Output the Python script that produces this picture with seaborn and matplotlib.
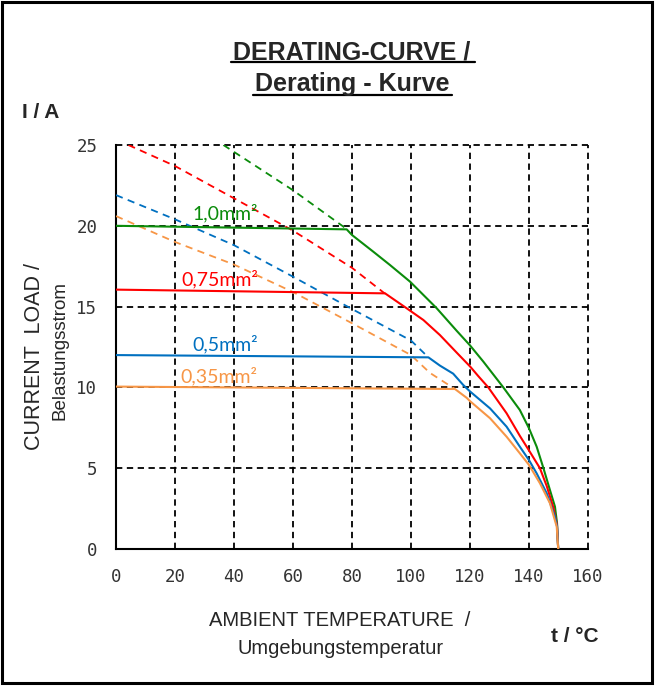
import numpy as np
import pandas as pd
import matplotlib
matplotlib.use("Agg")
import matplotlib.pyplot as plt
import seaborn as sns
from matplotlib.patches import Rectangle
from matplotlib.ticker import MultipleLocator, FixedLocator

# ---- data ----
series_names = ["1,0mm²", "0,75mm²", "0,5mm²", "0,35mm²"]
series_colors = ["#0B8C0B", "#FF0000", "#0070C0", "#F79646"]

# solid rated curves (temperature °C, current A)
t_10 = [0, 78.2, 80, 87.2, 92.9, 99.7, 108.7, 115.5, 120, 124.5, 131.3, 136.9,
        140, 142.6, 144.9, 147.1, 148.8, 149.5, 149.9]
i_10 = [20.0, 19.78, 19.43, 18.4, 17.57, 16.54, 14.9, 13.5, 12.6, 11.6, 10.0, 8.6,
        7.47, 6.33, 5.0, 3.65, 2.62, 1.6, 0.0]
t_075 = [0, 91.2, 98.5, 104.2, 109.8, 115.5, 120, 122.8, 126.2, 132.4, 136.9,
         140, 143.7, 146, 148.2, 149.5, 149.9]
i_075 = [16.05, 15.82, 14.9, 14.17, 13.24, 12.15, 11.3, 10.7, 10.0, 8.4, 7.0,
         6.1, 5.0, 3.9, 2.6, 1.5, 0.0]
t_05 = [0, 105.9, 109.8, 114.3, 117.7, 120, 126.8, 132.4, 136.9, 140, 142.6,
        146, 148.8, 149.5, 149.9]
i_05 = [12.0, 11.86, 11.35, 10.85, 10.15, 9.75, 8.7, 7.57, 6.33, 5.5, 4.68,
        3.45, 2.0, 1.4, 0.0]
t_035 = [0, 114.9, 118.9, 120, 126.8, 132.4, 136.9, 140, 143.7, 147.1, 149.4, 149.9]
i_035 = [10.05, 9.9, 9.35, 9.15, 8.09, 6.95, 5.92, 5.2, 4.07, 2.83, 1.38, 0.0]

# dashed extrapolations
td_10 = [36.4, 60, 78.2]
id_10 = [25.0, 22.2, 19.8]
td_075 = [4.2, 20, 40, 60, 80, 91.2]
id_075 = [25.0, 23.7, 21.7, 19.7, 17.4, 15.8]
td_05 = [0, 20, 40, 60, 80, 100, 105.9]
id_05 = [21.9, 20.4, 18.8, 16.85, 14.85, 12.9, 11.86]
td_035 = [0, 20, 40, 60, 80, 100, 106.4, 114.9]
id_035 = [20.6, 19.0, 17.6, 15.9, 13.97, 12.0, 10.9, 9.9]

solid = [(t_10, i_10), (t_075, i_075), (t_05, i_05), (t_035, i_035)]
dashed = [(td_10, id_10), (td_075, id_075), (td_05, id_05), (td_035, id_035)]

x_ticks = [0, 20, 40, 60, 80, 100, 120, 140, 160]
y_ticks = [0, 5, 10, 15, 20, 25]

# ---- figure ----
sns.set_style("white")
plt.rcParams["font.family"] = ["Liberation Sans", "DejaVu Sans"]

fig = plt.figure(figsize=(6.55, 6.87), dpi=100)
W, H = 655, 687
ax = fig.add_axes([116 / W, 1 - 549 / H, 472 / W, 404 / H])

for (t, i), c in zip(dashed, series_colors):
    df = pd.DataFrame({"t": t, "i": i})
    sns.lineplot(data=df, x="t", y="i", ax=ax, color=c, lw=1.3,
                 linestyle=(0, (4, 3)), estimator=None, sort=False, zorder=3)
for (t, i), c in zip(solid, series_colors):
    df = pd.DataFrame({"t": t, "i": i})
    sns.lineplot(data=df, x="t", y="i", ax=ax, color=c, lw=1.5,
                 estimator=None, sort=False, zorder=4)

ax.set_xlim(0, 160)
ax.set_ylim(0, 25)
ax.set_xlabel("")
ax.set_ylabel("")

# grid
for x in x_ticks[1:]:
    ax.axvline(x, color="black", lw=1.3, linestyle=(0, (3.5, 2.5)), zorder=2, clip_on=False)
for y in y_ticks[1:]:
    ax.axhline(y, color="black", lw=1.3, linestyle=(0, (3.5, 2.5)), zorder=2, clip_on=False)

for s in ["top", "right"]:
    ax.spines[s].set_visible(False)
for s in ["left", "bottom"]:
    ax.spines[s].set_color("black")
    ax.spines[s].set_linewidth(1.5)

ax.xaxis.set_major_locator(FixedLocator(x_ticks))
ax.yaxis.set_major_locator(FixedLocator(y_ticks))
ax.xaxis.set_minor_locator(MultipleLocator(5))
ax.yaxis.set_minor_locator(MultipleLocator(1))
ax.set_xticklabels([str(v) for v in x_ticks])
ax.set_yticklabels([str(v) for v in y_ticks])
ax.tick_params(axis="x", which="major", direction="inout", length=7, width=1.3,
               pad=10, labelsize=12.5, colors="black", labelcolor="#333333")
ax.tick_params(axis="x", which="minor", direction="out", length=3.6, width=1.1, colors="black")
ax.tick_params(axis="y", which="major", direction="inout", length=7, width=1.3,
               pad=10, labelsize=12.5, colors="black", labelcolor="#333333")
ax.tick_params(axis="y", which="minor", direction="inout", length=4, width=1.1, colors="black")
for lab in ax.get_xticklabels() + ax.get_yticklabels():
    lab.set_family(["DejaVu Sans Mono"])

# series labels
label_pos = [(37, 20.8), (35.3, 16.7), (37, 12.7), (35, 10.7)]
for name, c, (x, y) in zip(series_names, series_colors, label_pos):
    ax.text(x, y, name, color=c, fontsize=14, family=["Lato", "DejaVu Sans"],
            ha="center", va="center", zorder=5)

# titles and axis labels
sans = ["Liberation Sans", "DejaVu Sans"]
fig.text(352 / W, 1 - 59 / H, "DERATING-CURVE /", ha="center", va="baseline",
         fontsize=18, fontweight="bold", family=sans)
fig.text(352 / W, 1 - 91 / H, "Derating - Kurve", ha="center", va="baseline",
         fontsize=18, fontweight="bold", family=sans)
# underline
fig.add_artist(plt.Line2D([231 / W, 475 / W], [1 - 62 / H, 1 - 62 / H], color="black", lw=1.6))
fig.add_artist(plt.Line2D([253 / W, 452 / W], [1 - 95 / H, 1 - 95 / H], color="black", lw=1.6))

fig.text(41 / W, 1 - 113 / H, "I / A", ha="center", va="center", fontsize=15,
         fontweight="bold", family=sans)
fig.text(575 / W, 1 - 637 / H, "t / °C", ha="center", va="center", fontsize=15,
         fontweight="bold", family=sans)

fig.text(35 / W, 1 - 357 / H, "CURRENT  LOAD /", rotation=90, ha="center", va="center",
         fontsize=15.5, family=sans)
fig.text(60 / W, 1 - 350 / H, "Belastungsstrom", rotation=90, ha="center", va="center",
         fontsize=13.5, family=sans)
fig.text(340 / W, 1 - 620 / H, "AMBIENT TEMPERATURE  /", ha="center", va="center",
         fontsize=14.5, family=sans)
fig.text(341 / W, 1 - 648 / H, "Umgebungstemperatur", ha="center", va="center",
         fontsize=14.5, family=sans)

# outer frame
fig.add_artist(Rectangle((1.5 / W, 4 / H), 650 / W, 681 / H, transform=fig.transFigure,
                         fill=False, edgecolor="black", lw=2.2))

fig.savefig("out.png", dpi=100)
